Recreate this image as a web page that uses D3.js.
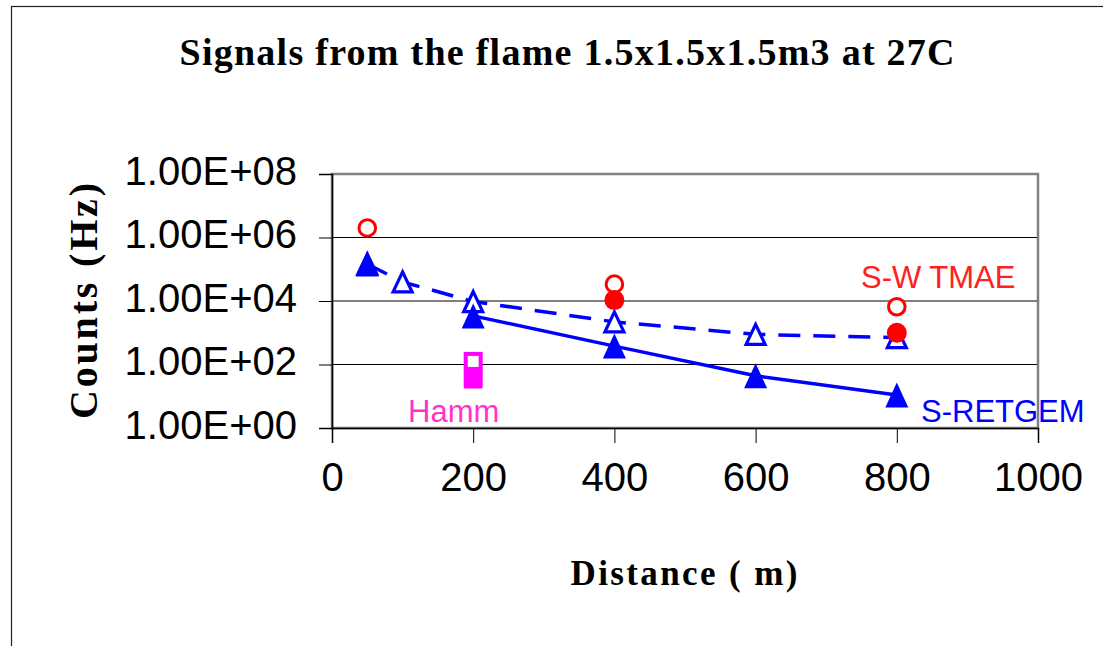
<!DOCTYPE html>
<html>
<head>
<meta charset="utf-8">
<script src="https://cdn.jsdelivr.net/npm/d3@7"></script>
<style>
  body { margin: 0; background: #fff; }
</style>
</head>
<body>
<script>
// distances in m, counts in Hz
const xTicks = [0, 200, 400, 600, 800, 1000];
const yTicks = [1, 1e2, 1e4, 1e6, 1e8];
const yTickLabels = ["1.00E+00", "1.00E+02", "1.00E+04", "1.00E+06", "1.00E+08"];

// S-RETGEM, filled triangles, solid line
const retgemX = [200, 400, 600, 800];
const retgemY = [3400, 380, 44, 11];
// filled triangle at 50 m (no line)
const retgemNearX = [50];
const retgemNearY = [146000];

// open triangles, dashed line
const retgemOpenX = [50, 100, 200, 400, 600, 800];
const retgemOpenY = [146000, 40000, 9600, 2200, 890, 700];

// S-W TMAE
const tmaeOpenX = [50, 400, 800];
const tmaeOpenY = [2000000, 34000, 6600];
const tmaeFilledX = [400, 800];
const tmaeFilledY = [10700, 1000];

// Hamm
const hammOpenX = [200];
const hammOpenY = [125];
const hammFilledX = [200];
const hammFilledY = [35];

const width = 1103, height = 646;
const plot = { left: 332, right: 1038, top: 174, bottom: 428 };

const svg = d3.select("body").append("svg")
  .attr("width", width)
  .attr("height", height);

// outer frame (runs off the right and bottom edges)
svg.append("rect")
  .attr("x", 11.5).attr("y", 6.5)
  .attr("width", width + 20).attr("height", height + 20)
  .attr("fill", "white")
  .attr("stroke", "#222").attr("stroke-width", 1.2);

const x = d3.scaleLinear().domain([0, 1000]).range([plot.left, plot.right]);
const y = d3.scaleLog().domain([1, 1e8]).range([plot.bottom, plot.top]);

const zip = (xs, ys) => xs.map((v, i) => ({ x: v, y: ys[i] }));

// gridlines
svg.append("g")
  .selectAll("line")
  .data(yTicks.slice(1, -1))
  .enter()
  .append("line")
  .attr("x1", plot.left).attr("x2", plot.right)
  .attr("y1", d => y(d)).attr("y2", d => y(d))
  .attr("stroke", "#000").attr("stroke-width", 1);

// plot border
svg.append("rect")
  .attr("x", plot.left).attr("y", plot.top)
  .attr("width", plot.right - plot.left)
  .attr("height", plot.bottom - plot.top)
  .attr("fill", "none")
  .attr("stroke", "#808080").attr("stroke-width", 2.5);

// y axis
const yAxis = d3.axisLeft(y)
  .tickValues(yTicks)
  .tickFormat((d, i) => yTickLabels[i])
  .tickSize(13)
  .tickPadding(22);
const gy = svg.append("g")
  .attr("transform", `translate(${plot.left},0)`)
  .call(yAxis);
gy.select(".domain").attr("stroke", "#000").attr("stroke-width", 1.5);
gy.selectAll(".tick line").attr("stroke", "#000");
gy.selectAll(".tick text")
  .attr("font-family", "Liberation Sans, Arial, sans-serif")
  .attr("font-size", 40)
  .attr("fill", "#000")
  .attr("dy", "0.25em");

// x axis
const xAxis = d3.axisBottom(x)
  .tickValues(xTicks)
  .tickFormat(d3.format("d"))
  .tickSize(15)
  .tickPadding(20);
const gx = svg.append("g")
  .attr("transform", `translate(0,${plot.bottom})`)
  .call(xAxis);
gx.select(".domain").attr("stroke", "#000").attr("stroke-width", 1.5);
gx.selectAll(".tick line").attr("stroke", "#000");
gx.selectAll(".tick text")
  .attr("font-family", "Liberation Sans, Arial, sans-serif")
  .attr("font-size", 40)
  .attr("fill", "#000");

// lines
const line = d3.line().x(d => x(d.x)).y(d => y(d.y));

svg.append("path")
  .datum(zip(retgemOpenX, retgemOpenY))
  .attr("d", line)
  .attr("fill", "none")
  .attr("stroke", "#0000ff").attr("stroke-width", 3.5)
  .attr("stroke-dasharray", "22,13");

svg.append("path")
  .datum(zip(retgemX, retgemY))
  .attr("d", line)
  .attr("fill", "none")
  .attr("stroke", "#0000ff").attr("stroke-width", 3.5);

// triangle centred on its bounding box, like the spreadsheet markers
function triangle(cx, cy, w, h) {
  return `M${cx},${cy - h / 2}L${cx + w / 2},${cy + h / 2}L${cx - w / 2},${cy + h / 2}Z`;
}

// open triangles
svg.append("g")
  .selectAll("path")
  .data(zip(retgemOpenX, retgemOpenY))
  .enter()
  .append("path")
  .attr("d", d => triangle(x(d.x), y(d.y), 19, 20))
  .attr("fill", "white")
  .attr("stroke", "#0000ff").attr("stroke-width", 3.2)
  .attr("stroke-linejoin", "miter");

// filled triangles
svg.append("g")
  .selectAll("path")
  .data(zip(retgemX, retgemY).concat(zip(retgemNearX, retgemNearY)))
  .enter()
  .append("path")
  .attr("d", d => triangle(x(d.x), y(d.y), 23, 25))
  .attr("fill", "#0000ff");

// Hamm squares
svg.append("g")
  .selectAll("rect")
  .data(zip(hammOpenX, hammOpenY))
  .enter()
  .append("rect")
  .attr("x", d => x(d.x) - 7.5).attr("y", d => y(d.y) - 7.5)
  .attr("width", 15).attr("height", 15)
  .attr("fill", "white")
  .attr("stroke", "#ff00ff").attr("stroke-width", 4);

svg.append("g")
  .selectAll("rect")
  .data(zip(hammFilledX, hammFilledY))
  .enter()
  .append("rect")
  .attr("x", d => x(d.x) - 9.5).attr("y", d => y(d.y) - 9.5)
  .attr("width", 19).attr("height", 19)
  .attr("rx", 1.5)
  .attr("fill", "#ff00ff");

// S-W TMAE circles
svg.append("g")
  .selectAll("circle")
  .data(zip(tmaeOpenX, tmaeOpenY))
  .enter()
  .append("circle")
  .attr("cx", d => x(d.x)).attr("cy", d => y(d.y))
  .attr("r", 8.3)
  .attr("fill", "white")
  .attr("stroke", "#ff0000").attr("stroke-width", 3);

svg.append("g")
  .selectAll("circle")
  .data(zip(tmaeFilledX, tmaeFilledY))
  .enter()
  .append("circle")
  .attr("cx", d => x(d.x)).attr("cy", d => y(d.y))
  .attr("r", 10)
  .attr("fill", "#ff0000");

// series labels
const labelFont = "Liberation Sans, Arial, sans-serif";
svg.append("text")
  .attr("x", 861).attr("y", 288)
  .attr("font-family", labelFont).attr("font-size", 31)
  .attr("fill", "#ff2020")
  .text("S-W TMAE");
svg.append("text")
  .attr("x", 921).attr("y", 422)
  .attr("font-family", labelFont).attr("font-size", 31)
  .attr("fill", "#0000ff")
  .text("S-RETGEM");
svg.append("text")
  .attr("x", 408).attr("y", 422)
  .attr("font-family", labelFont).attr("font-size", 31)
  .attr("fill", "#ff33cc")
  .text("Hamm");

// titles
const serif = "Liberation Serif, Times New Roman, serif";
svg.append("text")
  .attr("x", 567).attr("y", 65)
  .attr("text-anchor", "middle")
  .attr("font-family", serif).attr("font-weight", "bold")
  .attr("font-size", 38)
  .attr("textLength", 775).attr("lengthAdjust", "spacing")
  .text("Signals from the flame 1.5x1.5x1.5m3 at 27C");

svg.append("text")
  .attr("x", 684).attr("y", 585)
  .attr("text-anchor", "middle")
  .attr("font-family", serif).attr("font-weight", "bold")
  .attr("font-size", 35)
  .attr("textLength", 227).attr("lengthAdjust", "spacing")
  .text("Distance ( m)");

svg.append("text")
  .attr("transform", "translate(97,301) rotate(-90)")
  .attr("text-anchor", "middle")
  .attr("font-family", serif).attr("font-weight", "bold")
  .attr("font-size", 40)
  .attr("textLength", 236).attr("lengthAdjust", "spacing")
  .text("Counts  (Hz)");
</script>
</body>
</html>
